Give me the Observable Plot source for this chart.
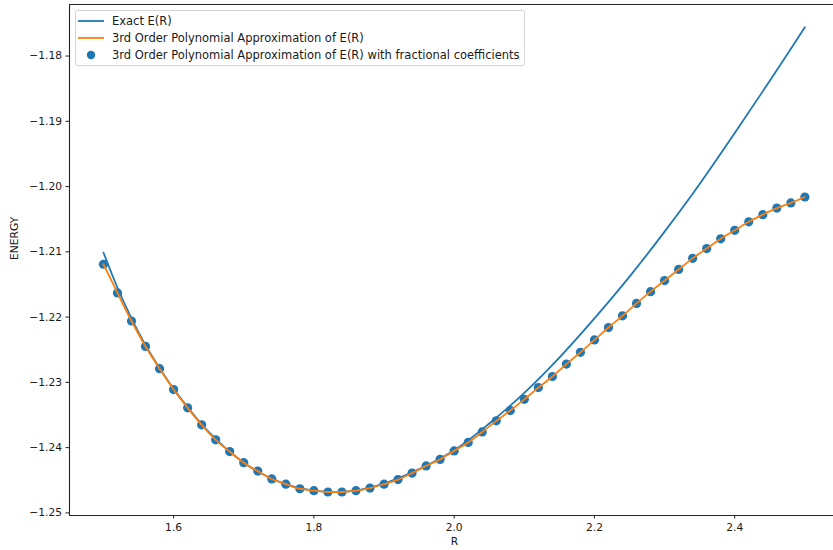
<!DOCTYPE html>
<html>
<head>
<meta charset="utf-8">
<script src="https://cdn.jsdelivr.net/npm/d3@7"></script>
<script src="https://cdn.jsdelivr.net/npm/@observablehq/plot@0.6"></script>
<style>
  html, body { margin: 0; padding: 0; background: #fff; }
  #wrap { position: relative; width: 833px; height: 550px; font-family: "DejaVu Sans", sans-serif; }
  #legend { position: absolute; left: 75px; top: 10px; width: 450px; height: 56px;
    border: 1px solid #d4d4d4; border-radius: 3px; background: rgba(255,255,255,0.8);
    font-size: 11.5px; color: #1a1a1a; box-sizing: border-box; }
  .row { position: absolute; left: 0; height: 17px; display: flex; align-items: center; white-space: nowrap; }
  .row svg { margin-left: 2px; margin-right: 8px; }
</style>
</head>
<body>
<div id="wrap"></div>
<script>
// Dots / 3rd order polynomial approximation
const rApprox = [1.50,1.52,1.54,1.56,1.58,1.60,1.62,1.64,1.66,1.68,1.70,1.72,1.74,1.76,1.78,1.80,1.82,1.84,1.86,1.88,1.90,1.92,1.94,1.96,1.98,2.00,2.02,2.04,2.06,2.08,2.10,2.12,2.14,2.16,2.18,2.20,2.22,2.24,2.26,2.28,2.30,2.32,2.34,2.36,2.38,2.40,2.42,2.44,2.46,2.48,2.50];
const eApprox = [-1.2119,-1.2163,-1.2206,-1.2245,-1.2279,-1.2311,-1.2339,-1.2365,-1.2388,-1.2406,-1.2423,-1.2436,-1.2448,-1.2456,-1.2463,-1.2466,-1.2468,-1.2468,-1.2466,-1.2462,-1.2456,-1.2449,-1.2439,-1.2428,-1.2418,-1.2405,-1.2392,-1.2376,-1.2359,-1.2343,-1.2326,-1.2308,-1.2291,-1.2272,-1.2254,-1.2235,-1.2216,-1.2198,-1.2179,-1.2161,-1.2144,-1.2127,-1.2110,-1.2095,-1.2080,-1.2067,-1.2054,-1.2043,-1.2033,-1.2025,-1.2016];
// Exact E(R)
const rExact = [1.50,1.52,1.54,1.56,1.58,1.60,1.65,1.70,1.75,1.80,1.85,1.90,1.95,2.00,2.05,2.10,2.15,2.20,2.25,2.30,2.35,2.40,2.45,2.50];
const eExact = [-1.2101,-1.2155,-1.2202,-1.2243,-1.2278,-1.2310,-1.2376,-1.2423,-1.2452,-1.2466,-1.2467,-1.2455,-1.2433,-1.2404,-1.2363,-1.2316,-1.2262,-1.2202,-1.2138,-1.2069,-1.1996,-1.1918,-1.1838,-1.1756];
const xTicks = [1.6, 1.8, 2.0, 2.2, 2.4];
const yTicks = [-1.25, -1.24, -1.23, -1.22, -1.21, -1.20, -1.19, -1.18];
const seriesNames = ["Exact E(R)", "3rd Order Polynomial Approximation of E(R)", "3rd Order Polynomial Approximation of E(R) with fractional coefficients"];
const BLUE = "#1f77b4", ORANGE = "#ff7f0e";

const approx = rApprox.map((r, i) => ({R: r, E: eApprox[i]}));
const exact = rExact.map((r, i) => ({R: r, E: eExact[i]}));
const xDom = [1.4516, 2.5408], yDom = [-1.2504, -1.1721];

const chart = Plot.plot({
  width: 833, height: 550,
  marginLeft: 69, marginRight: 0, marginTop: 4, marginBottom: 35,
  style: {fontFamily: "DejaVu Sans, sans-serif", fontSize: "10.7px", color: "#1a1a1a", background: "#fff"},
  x: {domain: xDom},
  y: {domain: yDom},
  marks: [
    Plot.dot(approx, {x: "R", y: "E", r: 4.6, fill: BLUE, stroke: "none"}),
    Plot.line(exact, {x: "R", y: "E", stroke: BLUE, strokeWidth: 1.8, curve: "catmull-rom"}),
    Plot.line(approx, {x: "R", y: "E", stroke: ORANGE, strokeWidth: 1.8, curve: "catmull-rom"}),
    Plot.ruleX([xDom[0]], {stroke: "#222", strokeWidth: 1.1}),
    Plot.ruleY([yDom[0]], {stroke: "#222", strokeWidth: 1.1}),
    Plot.ruleY([yDom[1]], {stroke: "#222", strokeWidth: 1.1}),
    Plot.axisX({ticks: xTicks, tickFormat: d3.format(".1f"), tickSize: 3.5, tickPadding: 4, label: null, stroke: "#222"}),
    Plot.axisY({ticks: yTicks, tickFormat: d3.format(".2f"), tickSize: 3.5, tickPadding: 4, label: null, stroke: "#222"}),
    Plot.text(["R"], {frameAnchor: "bottom", dx: 3, dy: 29, fontSize: 10.7, fill: "#1a1a1a"}),
    Plot.text(["ENERGY"], {frameAnchor: "left", dx: -55, rotate: -90, fontSize: 10.7, fill: "#1a1a1a"})
  ]
});
const wrap = document.getElementById("wrap");
wrap.appendChild(chart);

// Legend
const legend = document.createElement("div");
legend.id = "legend";
const handles = [
  `<svg width="26" height="10"><line x1="0" y1="5" x2="26" y2="5" stroke="${BLUE}" stroke-width="1.8"/></svg>`,
  `<svg width="26" height="10"><line x1="0" y1="5" x2="26" y2="5" stroke="${ORANGE}" stroke-width="1.8"/></svg>`,
  `<svg width="26" height="10"><circle cx="13" cy="5" r="4.2" fill="${BLUE}"/></svg>`
];
seriesNames.forEach((name, i) => {
  const row = document.createElement("div");
  row.className = "row";
  row.style.top = (1.5 + i * 17.2) + "px";
  row.innerHTML = handles[i] + `<span>${name}</span>`;
  legend.appendChild(row);
});
wrap.appendChild(legend);
</script>
</body>
</html>
